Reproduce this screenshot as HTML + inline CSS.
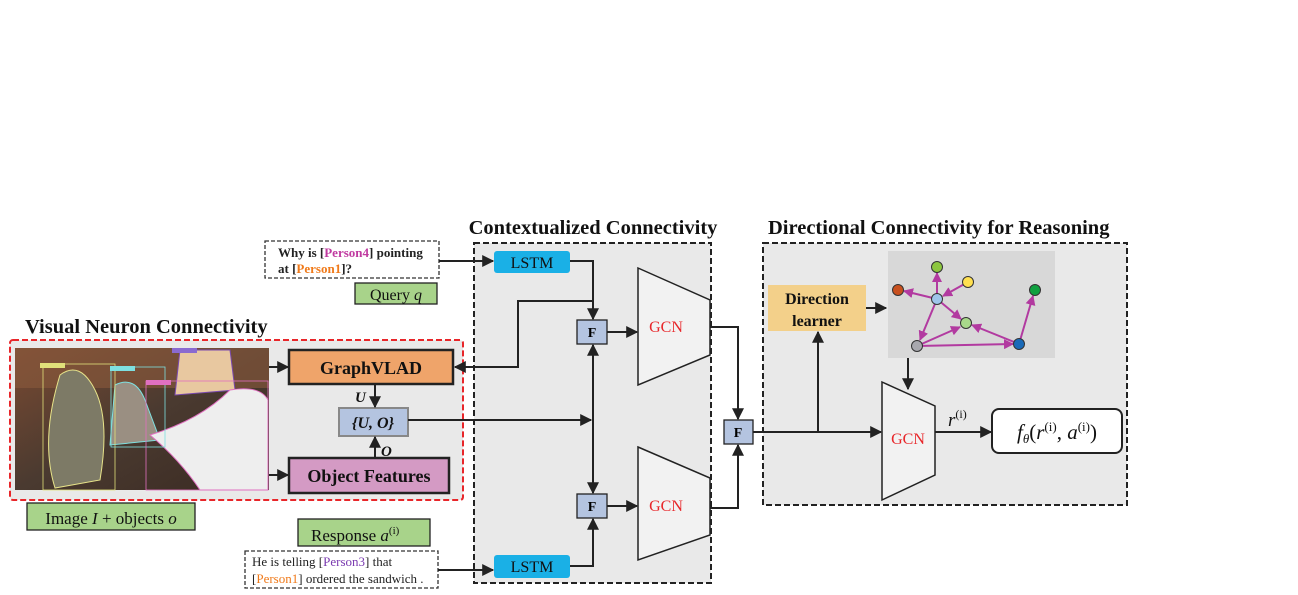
<!DOCTYPE html>
<html><head><meta charset="utf-8"><style>
html,body{margin:0;padding:0;background:#fff;}
svg{display:block;}
</style></head><body>
<svg width="1298" height="595" viewBox="0 0 1298 595" xmlns="http://www.w3.org/2000/svg" font-family="Liberation Serif, serif">
<defs>
<marker id="a" viewBox="0 0 10 10" refX="9" refY="5" markerWidth="6" markerHeight="6" orient="auto-start-reverse"><path d="M0,0 L10,5 L0,10 z" fill="#222"/></marker>
<marker id="m" viewBox="0 0 10 10" refX="9" refY="5" markerWidth="5" markerHeight="5" orient="auto"><path d="M0,0 L10,5 L0,10 z" fill="#b23aa0"/></marker>
<linearGradient id="ph" x1="0" y1="0" x2="1" y2="1"><stop offset="0" stop-color="#7a4a32"/><stop offset="0.5" stop-color="#4a3a30"/><stop offset="1" stop-color="#3a2a22"/></linearGradient>
</defs>

<text x="25" y="333" font-size="20.5" font-weight="bold" fill="#111">Visual Neuron Connectivity</text>
<text x="593" y="234" font-size="20.5" font-weight="bold" fill="#111" text-anchor="middle">Contextualized Connectivity</text>
<text x="768" y="234" font-size="20.5" font-weight="bold" fill="#111">Directional Connectivity for Reasoning</text>

<rect x="265" y="241" width="174" height="37" fill="#fff" stroke="#333" stroke-width="1.3" stroke-dasharray="4,2"/>
<text x="278" y="257" font-size="13" font-weight="bold" fill="#222">Why is [<tspan fill="#c03aa0">Person4</tspan>] pointing</text>
<text x="278" y="273" font-size="13" font-weight="bold" fill="#222">at [<tspan fill="#f07a1a">Person1</tspan>]?</text>
<rect x="355" y="283" width="82" height="21" fill="#a8d38a" stroke="#222" stroke-width="1.3"/>
<text x="396" y="300" font-size="16" text-anchor="middle" fill="#111">Query <tspan font-style="italic">q</tspan></text>

<rect x="10" y="340" width="453" height="160" rx="3" fill="#e9e9e9" stroke="#e8262a" stroke-width="2" stroke-dasharray="6,3"/>
<rect x="15" y="348" width="254" height="142" fill="url(#ph)"/>
<rect x="15" y="348" width="254" height="40" fill="#8a5a3c" opacity="0.6"/>
<path d="M60,375 Q80,360 95,390 Q110,420 100,480 L55,488 Q40,440 60,375z" fill="#7d7a66" stroke="#e8e48a" stroke-width="1"/>
<path d="M115,385 Q135,375 145,400 L160,440 L110,445z" fill="#9a8f82" stroke="#7ee0e0" stroke-width="1"/>
<path d="M180,350 L230,350 L235,390 L175,395z" fill="#e8c8a0" stroke="#7a4ab0" stroke-width="1"/>
<path d="M150,435 Q200,420 230,390 Q260,385 268,400 L268,490 L200,490 Q180,460 150,435z" fill="#eeeeee" stroke="#e070c0" stroke-width="1"/>
<rect x="43" y="364" width="72" height="126" fill="none" stroke="#e0e07a" stroke-width="0.8"/>
<rect x="111" y="367" width="54" height="80" fill="none" stroke="#7ee0e0" stroke-width="0.8"/>
<rect x="146" y="381" width="122" height="109" fill="none" stroke="#e070c0" stroke-width="0.8"/>
<rect x="40" y="363" width="25" height="5" fill="#e0e07a"/>
<rect x="110" y="366" width="25" height="5" fill="#7ee0e0"/>
<rect x="146" y="380" width="25" height="5" fill="#e070c0"/>
<rect x="172" y="348" width="25" height="5" fill="#8a6ad0"/>

<rect x="289" y="350" width="164" height="34" fill="#efa46a" stroke="#222" stroke-width="2.5"/>
<text x="371" y="374" font-size="18" font-weight="bold" text-anchor="middle" fill="#111">GraphVLAD</text>
<rect x="339" y="408" width="69" height="28" fill="#b4c4e0" stroke="#888" stroke-width="2"/>
<text x="373" y="428" font-size="16" font-weight="bold" font-style="italic" text-anchor="middle" fill="#111">{U, O}</text>
<rect x="289" y="458" width="160" height="35" fill="#d49ac4" stroke="#222" stroke-width="2.5"/>
<text x="369" y="482" font-size="18" font-weight="bold" text-anchor="middle" fill="#111">Object Features</text>
<text x="355" y="402" font-size="15" font-weight="bold" font-style="italic" fill="#111">U</text>
<text x="381" y="456" font-size="15" font-weight="bold" font-style="italic" fill="#111">O</text>
<line x1="269" y1="367" x2="288" y2="367" stroke="#222" stroke-width="2" marker-end="url(#a)"/>
<line x1="269" y1="475" x2="288" y2="475" stroke="#222" stroke-width="2" marker-end="url(#a)"/>
<line x1="375" y1="384" x2="375" y2="407" stroke="#222" stroke-width="2" marker-end="url(#a)"/>
<line x1="375" y1="458" x2="375" y2="437" stroke="#222" stroke-width="2" marker-end="url(#a)"/>

<rect x="27" y="503" width="168" height="27" fill="#a8d38a" stroke="#222" stroke-width="1.3"/>
<text x="111" y="524" font-size="17" text-anchor="middle" fill="#111">Image <tspan font-style="italic">I</tspan> + objects <tspan font-style="italic">o</tspan></text>

<rect x="298" y="519" width="132" height="27" fill="#a8d38a" stroke="#222" stroke-width="1.3"/>
<text x="311" y="541" font-size="17" fill="#111">Response  <tspan font-style="italic">a</tspan><tspan font-size="11" dy="-7">(i)</tspan></text>

<rect x="245" y="551" width="193" height="37" fill="#fff" stroke="#333" stroke-width="1.3" stroke-dasharray="4,2"/>
<text x="252" y="566" font-size="13" fill="#222">He is telling [<tspan fill="#7a3ab0">Person3</tspan>] that</text>
<text x="252" y="583" font-size="13" fill="#222">[<tspan fill="#f07a1a">Person1</tspan>] ordered the sandwich .</text>

<rect x="474" y="243" width="237" height="340" fill="#e9e9e9" stroke="#222" stroke-width="2" stroke-dasharray="6,3"/>
<rect x="494" y="251" width="76" height="22" rx="3" fill="#1ab0e6"/>
<text x="532" y="268" font-size="16" text-anchor="middle" fill="#111">LSTM</text>
<rect x="494" y="555" width="76" height="23" rx="3" fill="#1ab0e6"/>
<text x="532" y="572" font-size="16" text-anchor="middle" fill="#111">LSTM</text>
<rect x="577" y="320" width="30" height="24" fill="#b4c4e0" stroke="#222" stroke-width="1.3"/>
<text x="592" y="337" font-size="14" font-weight="bold" text-anchor="middle">F</text>
<rect x="577" y="494" width="30" height="24" fill="#b4c4e0" stroke="#222" stroke-width="1.3"/>
<text x="592" y="511" font-size="14" font-weight="bold" text-anchor="middle">F</text>
<polygon points="638,268 710,300 710,355 638,385" fill="#f2f2f2" stroke="#222" stroke-width="1.5"/>
<text x="666" y="332" font-size="16" fill="#e8262a" text-anchor="middle">GCN</text>
<polygon points="638,447 710,478 710,535 638,560" fill="#f2f2f2" stroke="#222" stroke-width="1.5"/>
<text x="666" y="511" font-size="16" fill="#e8262a" text-anchor="middle">GCN</text>

<g stroke="#222" stroke-width="2" fill="none">
<line x1="439" y1="261" x2="493" y2="261" marker-end="url(#a)"/>
<polyline points="570,261 593,261 593,319" marker-end="url(#a)"/>
<polyline points="593,301 518,301 518,367 455,367" marker-end="url(#a)"/>
<line x1="408" y1="420" x2="591" y2="420" marker-end="url(#a)"/>
<line x1="593" y1="420" x2="593" y2="345" marker-end="url(#a)"/>
<line x1="593" y1="420" x2="593" y2="493" marker-end="url(#a)"/>
<line x1="607" y1="332" x2="637" y2="332" marker-end="url(#a)"/>
<line x1="607" y1="506" x2="637" y2="506" marker-end="url(#a)"/>
<polyline points="570,566 593,566 593,519" marker-end="url(#a)"/>
<line x1="438" y1="570" x2="493" y2="570" marker-end="url(#a)"/>
<polyline points="710,327 738,327 738,419" marker-end="url(#a)"/>
<polyline points="710,508 738,508 738,445" marker-end="url(#a)"/>
</g>
<rect x="724" y="420" width="29" height="24" fill="#b4c4e0" stroke="#222" stroke-width="1.3"/>
<text x="738" y="437" font-size="14" font-weight="bold" text-anchor="middle">F</text>

<rect x="763" y="243" width="364" height="262" fill="#e9e9e9" stroke="#222" stroke-width="2" stroke-dasharray="6,3"/>
<g stroke="#222" stroke-width="2" fill="none">
<line x1="753" y1="432" x2="881" y2="432" marker-end="url(#a)"/>
<line x1="818" y1="432" x2="818" y2="332" marker-end="url(#a)"/>
<line x1="866" y1="308" x2="886" y2="308" marker-end="url(#a)"/>
<line x1="908" y1="358" x2="908" y2="389" marker-end="url(#a)"/>
<line x1="935" y1="432" x2="991" y2="432" marker-end="url(#a)"/>
</g>
<rect x="768" y="285" width="98" height="46" fill="#f3d08a"/>
<text x="817" y="304" font-size="16" font-weight="bold" text-anchor="middle" fill="#111">Direction</text>
<text x="817" y="326" font-size="16" font-weight="bold" text-anchor="middle" fill="#111">learner</text>
<rect x="888" y="251" width="167" height="107" fill="#d8d8d8"/>
<g stroke="#b23aa0" stroke-width="2" fill="none">
<line x1="937" y1="299" x2="937" y2="273" marker-end="url(#m)"/>
<line x1="968" y1="282" x2="943" y2="296" marker-end="url(#m)"/>
<line x1="937" y1="299" x2="904" y2="291" marker-end="url(#m)"/>
<line x1="937" y1="299" x2="961" y2="319" marker-end="url(#m)"/>
<line x1="937" y1="299" x2="920" y2="340" marker-end="url(#m)"/>
<line x1="917" y1="346" x2="960" y2="327" marker-end="url(#m)"/>
<line x1="917" y1="346" x2="1013" y2="344" marker-end="url(#m)"/>
<line x1="1019" y1="344" x2="972" y2="325" marker-end="url(#m)"/>
<line x1="1019" y1="344" x2="1033" y2="296" marker-end="url(#m)"/>
</g>
<g stroke="#333" stroke-width="1">
<circle cx="937" cy="267" r="5.5" fill="#8cc63f"/>
<circle cx="968" cy="282" r="5.5" fill="#ffe050"/>
<circle cx="898" cy="290" r="5.5" fill="#c8501e"/>
<circle cx="937" cy="299" r="5.5" fill="#9ec4ea"/>
<circle cx="966" cy="323" r="5.5" fill="#a8d88a"/>
<circle cx="917" cy="346" r="5.5" fill="#a8a8ae"/>
<circle cx="1019" cy="344" r="5.5" fill="#1a6ab8"/>
<circle cx="1035" cy="290" r="5.5" fill="#10a040"/>
</g>
<polygon points="882,382 935,406 935,475 882,500" fill="#f2f2f2" stroke="#222" stroke-width="1.5"/>
<text x="908" y="444" font-size="16" fill="#e8262a" text-anchor="middle">GCN</text>
<text x="948" y="426" font-size="19" font-style="italic" fill="#111">r<tspan font-size="12" dy="-8" font-style="normal">(i)</tspan></text>
<rect x="992" y="409" width="130" height="44" rx="7" fill="#fff" stroke="#222" stroke-width="2"/>
<text x="1057" y="439" font-size="21" text-anchor="middle" fill="#111"><tspan font-style="italic">f</tspan><tspan font-size="13" dy="4" font-style="italic">θ</tspan><tspan dy="-4">(</tspan><tspan font-style="italic">r</tspan><tspan font-size="13" dy="-8">(i)</tspan><tspan dy="8">, </tspan><tspan font-style="italic">a</tspan><tspan font-size="13" dy="-8">(i)</tspan><tspan dy="8">)</tspan></text>
</svg>
</body></html>
